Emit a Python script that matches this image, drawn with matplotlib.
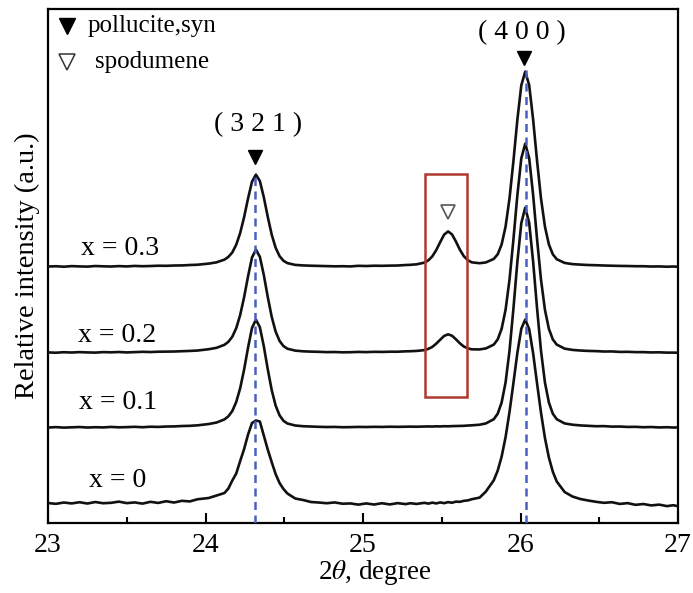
import numpy as np
import matplotlib
matplotlib.use("Agg")
import matplotlib.pyplot as plt
from matplotlib.patches import Rectangle

plt.rcParams["font.family"] = ["Liberation Serif", "DejaVu Serif"]
plt.rcParams["mathtext.fontset"] = "stix"

# 2-theta sampling positions (degree)
two_theta = [
    23.00, 23.05, 23.10, 23.15, 23.20, 23.25, 23.30, 23.35, 23.40, 23.45,
    23.50, 23.55, 23.60, 23.65, 23.70, 23.75, 23.80, 23.85, 23.90, 23.95,
    24.02, 24.07, 24.12, 24.145, 24.17, 24.195, 24.22, 24.245, 24.27, 24.295,
    24.32, 24.345, 24.37, 24.395, 24.42, 24.445, 24.47, 24.495, 24.52, 24.57,
    24.62, 24.67, 24.72, 24.77, 24.82, 24.87, 24.92,
    24.97, 25.02, 25.07, 25.12, 25.17, 25.22, 25.27, 25.30, 25.34, 25.39,
    25.415, 25.44, 25.465, 25.49, 25.515, 25.54, 25.565, 25.59, 25.615, 25.64,
    25.665, 25.69, 25.74,
    25.78, 25.83, 25.855, 25.88, 25.905, 25.93, 25.955, 25.98, 26.005, 26.03,
    26.055, 26.08, 26.105, 26.13, 26.155, 26.18, 26.205, 26.23, 26.28, 26.33,
    26.38, 26.43,
    26.48, 26.53, 26.58, 26.63, 26.68, 26.73, 26.78, 26.83, 26.88, 26.93,
    26.97, 27.00,
]

# relative intensities above each pattern's own baseline
int_x0 = [
    4.0, 3.2, 4.5, 3.6, 4.8, 3.5, 5.0, 3.8, 4.2, 5.4,
    3.9, 4.6, 3.4, 5.2, 4.1, 5.8, 4.5, 6.2, 5.6, 7.8,
    9.0, 11.5, 14.0, 18.5, 26.5, 33.5, 46.0, 58.0, 72.5, 84.0,
    86.5, 85.5, 71.5, 57.5, 45.0, 33.0, 24.0, 18.0, 13.5, 8.5,
    7.0, 5.0, 4.5, 3.8, 4.6, 3.3, 3.6,
    2.4, 3.6, 2.5, 3.8, 2.6, 3.9, 2.9, 3.8, 3.1, 4.2,
    3.4, 4.4, 3.6, 4.6, 3.9, 4.9, 4.3, 5.4, 5.2, 6.2,
    6.6, 7.8, 9.4,
    15.5, 26.7, 36.4, 50.4, 69.8, 95.0, 124.2, 154.2, 178.3, 187.5,
    177.8, 153.7, 123.5, 94.3, 69.0, 49.5, 35.3, 25.5, 15.0, 10.5,
    8.0, 6.5,
    5.2, 4.2, 4.8, 3.1, 3.9, 2.2, 3.0, 1.6, 2.4, 0.9,
    1.8, 0.8,
]
int_x01 = [
    0.5, 0.9, 0.4, 0.7, 1.0, 0.5, 0.8, 0.6, 1.1, 0.7,
    0.9, 1.2, 0.8, 1.3, 1.1, 1.5, 1.6, 2.0, 2.2, 2.7,
    4.0, 5.5, 8.6, 11.7, 17.0, 26.1, 39.8, 58.5, 80.4, 100.1,
    108.4, 100.8, 81.8, 58.9, 38.1, 22.5, 12.7, 7.2, 4.5, 2.5,
    1.8, 1.5, 1.2, 1.0, 1.1, 0.8, 0.9,
    1.1, 1.0, 1.2, 1.1, 1.3, 1.2, 1.3, 1.4, 1.3, 1.5,
    1.6, 1.5, 1.7, 1.6, 1.8, 1.7, 1.9, 2.0, 2.1, 2.2,
    2.5, 2.7, 3.3,
    4.6, 8.8, 14.3, 25.5, 45.5, 77.2, 119.6, 166.3, 205.0, 220.4,
    205.0, 166.3, 119.6, 77.2, 45.5, 25.5, 14.3, 8.8, 4.6, 3.3,
    2.6, 2.2,
    1.8, 1.9, 1.4, 1.5, 1.1, 1.2, 0.8, 1.0, 0.6, 0.8,
    0.5, 0.6,
]
int_x02 = [
    0.6, 0.3, 0.8, 0.5, 0.9, 0.6, 0.4, 0.9, 0.7, 1.0,
    0.6, 0.9, 1.2, 1.0, 1.3, 1.4, 1.5, 1.8, 2.1, 2.5,
    3.8, 5.2, 8.2, 11.2, 16.3, 24.9, 38.0, 55.8, 76.7, 95.5,
    103.4, 96.2, 78.1, 56.2, 36.3, 21.5, 12.1, 6.9, 4.3, 2.4,
    1.7, 1.4, 1.2, 0.9, 1.0, 0.7, 0.8,
    1.1, 0.9, 1.2, 1.1, 1.3, 1.3, 1.7, 1.8, 2.1, 2.9,
    4.2, 6.1, 9.4, 13.3, 17.1, 18.7, 17.3, 13.7, 9.7, 6.5,
    4.7, 3.7, 3.6,
    4.6, 8.4, 13.6, 24.2, 43.2, 73.3, 113.7, 158.0, 194.8, 209.4,
    194.8, 158.0, 113.7, 73.3, 43.2, 24.2, 13.6, 8.4, 4.4, 3.1,
    2.5, 2.1,
    1.9, 1.5, 1.6, 1.1, 1.2, 0.9, 0.9, 0.6, 0.7, 0.4,
    0.4, 0.3,
]
int_x03 = [
    0.5, 0.8, 0.3, 0.9, 0.6, 0.4, 1.0, 0.7, 0.5, 0.9,
    0.6, 1.1, 0.8, 1.0, 1.3, 1.2, 1.5, 1.6, 2.0, 2.3,
    3.4, 4.7, 7.4, 10.1, 14.6, 22.3, 34.0, 49.9, 68.6, 85.3,
    92.4, 86.0, 69.8, 50.3, 32.5, 19.3, 10.9, 6.2, 3.9, 2.1,
    1.6, 1.3, 1.1, 0.9, 0.7, 0.8, 0.6,
    1.2, 1.0, 1.3, 1.2, 1.4, 1.5, 2.0, 2.2, 2.7, 4.4,
    6.7, 10.7, 17.0, 24.9, 32.4, 35.6, 32.6, 25.4, 17.3, 10.8,
    6.9, 4.7, 3.8,
    4.6, 8.1, 12.7, 22.6, 40.4, 68.5, 106.1, 147.4, 181.8, 195.4,
    181.8, 147.4, 106.1, 68.5, 40.4, 22.6, 12.7, 7.8, 4.1, 2.9,
    2.4, 2.0,
    1.8, 1.5, 1.3, 1.1, 1.0, 0.8, 0.8, 0.5, 0.6, 0.3,
    0.5, 0.3,
]

compositions = ["x = 0", "x = 0.1", "x = 0.2", "x = 0.3"]
stack_offsets = [16, 95, 170, 256]
label_pos = [(23.44, 43), (23.444, 121), (23.438, 188), (23.457, 275)]

peak_321 = 24.315
peak_400 = 26.035
peak_spod = 25.54
hkl_labels = ["( 3 2 1 )", "( 4 0 0 )"]

fig = plt.figure(figsize=(6.93, 5.93), dpi=100)
ax = fig.add_axes([0.0693, 0.118, 0.9091, 0.8668])

series = [int_x0, int_x01, int_x02, int_x03]
x = np.array(two_theta)
for vals, off in zip(series, stack_offsets):
    ax.plot(x, np.array(vals) + off, color="#111111", lw=1.9,
            solid_joinstyle="round", zorder=3)

for name, (lx, ly) in zip(compositions, label_pos):
    ax.text(lx, ly, name, fontsize=20, ha="center", va="center")

# reference peak positions
dash_kw = dict(color="#4a5ec4", lw=1.8, dashes=(3.2, 2.2), zorder=4)
ax.plot([peak_321, peak_321], [0, 348], **dash_kw)
ax.plot([peak_400, peak_400], [0, 453], **dash_kw)

# peak markers and indices
ax.plot([peak_321], [366], marker="v", ms=10, color="black", ls="none")
ax.plot([26.02], [465], marker="v", ms=10, color="black", ls="none")
ax.plot([peak_spod], [311], marker="v", ms=10, mfc="white", mec="#555555",
        mew=1.2, ls="none")
ax.text(24.333, 398, hkl_labels[0], fontsize=20, ha="center", va="center")
ax.text(26.01, 490, hkl_labels[1], fontsize=20, ha="center", va="center")

ax.add_patch(Rectangle((25.394, 126), 0.266, 223, fill=False,
                       ec="#b0392e", lw=1.8, zorder=5))

# legend
ax.plot([0.030], [0.967], marker="v", ms=11, color="black", ls="none",
        transform=ax.transAxes, clip_on=False)
ax.text(0.063, 0.967, "pollucite,syn", fontsize=18, va="center",
        transform=ax.transAxes)
ax.plot([0.030], [0.897], marker="v", ms=11, mfc="white", mec="#333333",
        mew=1.1, ls="none", transform=ax.transAxes, clip_on=False)
ax.text(0.075, 0.897, "spodumene", fontsize=18, va="center",
        transform=ax.transAxes)

ax.set_xlim(23, 27)
ax.set_ylim(0, 514)
ax.set_xticks([23, 24, 25, 26, 27])
ax.set_xticks([23.5, 24.5, 25.5, 26.5], minor=True)
ax.set_yticks([])
ax.tick_params(axis="x", which="major", direction="in", length=7, width=1.5,
               labelsize=20, pad=7)
ax.tick_params(axis="x", which="minor", direction="in", length=4, width=1.5)
for s in ax.spines.values():
    s.set_linewidth(1.6)

ax.set_xlabel(r"2$\theta$, degree", fontsize=19.5, labelpad=0)
ax.xaxis.set_label_coords(0.519, -0.068)
ax.set_ylabel("Relative intensity (a.u.)", fontsize=20.5, labelpad=6)

fig.savefig("out.png", dpi=100)
